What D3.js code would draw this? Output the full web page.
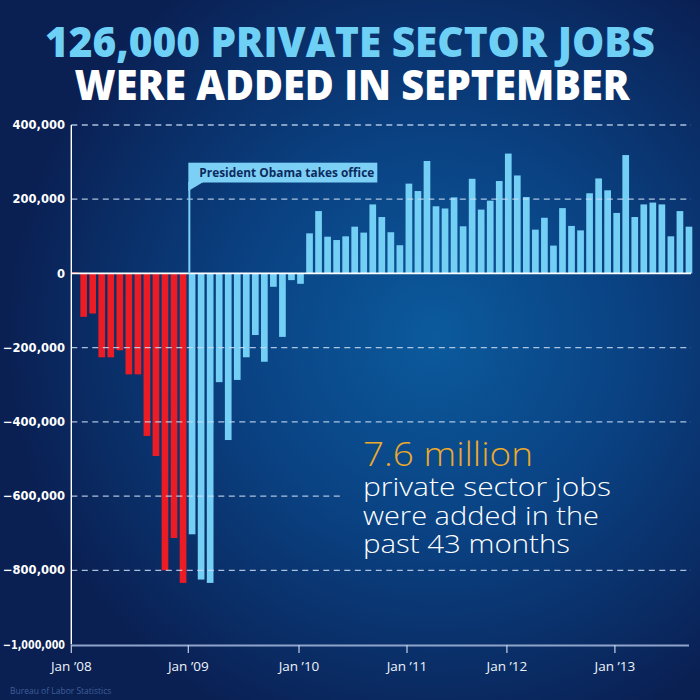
<!DOCTYPE html>
<html>
<head>
<meta charset="utf-8">
<script src="https://cdn.jsdelivr.net/npm/d3@7"></script>
<style>
  html, body { margin: 0; padding: 0; background: #0a2153; }
  svg { display: block; }
</style>
</head>
<body>
<div id="chart"></div>
<script>
// monthly change in private sector jobs, Jan 2008 .. Sep 2013
const redValues = [3, -117, -108, -226, -226, -207, -272, -272, -438, -492, -800, -713, -834]
const blueNegValues = [-703, -825, -834, -293, -449, -287, -226, -166, -238, -36, -171, -18, -28]
const bluePosValues = [
  108, 168, 99, 90, 100, 126, 110, 186, 152, 111, 76, 242, 222, 303, 181, 175,
  205, 127, 255, 172, 196, 249, 323, 264, 206, 118, 150, 75, 176, 128, 116, 216,
  256, 224, 163, 319, 152, 186, 191, 186, 100, 168, 126
]
const values = redValues.concat(blueNegValues, bluePosValues).map((v) => v * 1000)
const obamaIndex = redValues.length

const yTicks = [400000, 200000, 0, -200000, -400000, -600000, -800000, -1000000]
const gridTicks = [400000, 200000, -200000, -400000, -600000, -800000]
const xTickLabels = ["Jan \u201908", "Jan \u201909", "Jan \u201910", "Jan \u201911", "Jan  \u201912", "Jan \u201913"]
const xTickMonths = [0, 13, 25.3, 37.3, 48.4, 60.4]

const calloutLines = ["private sector jobs", "were added in the", "past 43 months"]
const calloutWidths = [248, 236, 207]

const W = 700
const H = 700
const left = 71.3
const step = 9
const plotRight = 691

const svg = d3.select("#chart").append("svg").attr("width", W).attr("height", H)

const defs = svg.append("defs")
const grad = defs
  .append("radialGradient")
  .attr("id", "bg")
  .attr("cx", "62%")
  .attr("cy", "48%")
  .attr("r", "62%")
grad.append("stop").attr("offset", "0%").attr("stop-color", "#0b5a9c")
grad.append("stop").attr("offset", "45%").attr("stop-color", "#0a4283")
grad.append("stop").attr("offset", "100%").attr("stop-color", "#0a1f52")

svg.append("rect").attr("width", W).attr("height", H).attr("fill", "url(#bg)")

// title
svg
  .append("text")
  .attr("x", 350)
  .attr("y", 57)
  .attr("text-anchor", "middle")
  .attr("font-family", "Open Sans")
  .attr("font-weight", 800)
  .attr("font-size", 42)
  .attr("fill", "#6fd0f6")
  .attr("textLength", 610)
  .attr("lengthAdjust", "spacingAndGlyphs")
  .text("126,000 PRIVATE SECTOR JOBS")

svg
  .append("text")
  .attr("x", 352)
  .attr("y", 100)
  .attr("text-anchor", "middle")
  .attr("font-family", "Open Sans")
  .attr("font-weight", 800)
  .attr("font-size", 42)
  .attr("fill", "#ffffff")
  .attr("textLength", 555)
  .attr("lengthAdjust", "spacingAndGlyphs")
  .text("WERE ADDED IN SEPTEMBER")

const x = d3
  .scaleBand()
  .domain(d3.range(values.length))
  .range([left, left + values.length * step])
  .paddingInner(0.26)
  .paddingOuter(0)
  .align(0)

const xMonth = d3
  .scaleLinear()
  .domain([0, values.length])
  .range([left, left + values.length * step])

const y = d3.scaleLinear().domain([-1000000, 400000]).range([644.5, 125])

// bars
svg
  .append("g")
  .selectAll("rect")
  .data(values)
  .enter()
  .append("rect")
  .attr("x", (d, i) => x(i))
  .attr("width", x.bandwidth())
  .attr("y", (d) => Math.min(y(d), y(0)))
  .attr("height", (d) => Math.max(1, Math.abs(y(d) - y(0))))
  .attr("fill", (d, i) => (i < obamaIndex ? "#ec1c24" : "#74cff5"))

// dashed grid
svg
  .append("g")
  .selectAll("line")
  .data(gridTicks)
  .enter()
  .append("line")
  .attr("x1", left)
  .attr("x2", (d) => (d === -600000 ? 341 : plotRight))
  .attr("y1", (d) => y(d))
  .attr("y2", (d) => y(d))
  .attr("stroke", "#c9dcf2")
  .attr("stroke-opacity", 0.85)
  .attr("stroke-width", 1.3)
  .attr("stroke-dasharray", "6,4.5")

// zero line
svg
  .append("line")
  .attr("x1", left)
  .attr("x2", plotRight)
  .attr("y1", y(0))
  .attr("y2", y(0))
  .attr("stroke", "#ffffff")
  .attr("stroke-width", 1.8)

// y axis line
svg
  .append("line")
  .attr("x1", left)
  .attr("x2", left)
  .attr("y1", y(400000))
  .attr("y2", y(-1000000))
  .attr("stroke", "#ffffff")
  .attr("stroke-width", 1.4)

// y labels
svg
  .append("g")
  .selectAll("text")
  .data(yTicks)
  .enter()
  .append("text")
  .attr("x", 65)
  .attr("y", (d) => y(d) + 4.2)
  .attr("text-anchor", "end")
  .attr("font-family", "DejaVu Sans")
  .attr("font-weight", "bold")
  .attr("font-size", 11.5)
  .attr("fill", "#ffffff")
  .attr("textLength", (d) => (d === -1000000 ? 62 : null))
  .attr("lengthAdjust", "spacingAndGlyphs")
  .text((d) => d3.format(",")(d))

// x axis
svg
  .append("line")
  .attr("x1", left)
  .attr("x2", 689)
  .attr("y1", 645.5)
  .attr("y2", 645.5)
  .attr("stroke", "#8fa4ca")
  .attr("stroke-width", 2)

const xt = svg
  .append("g")
  .selectAll("g")
  .data(xTickMonths)
  .enter()
  .append("g")
  .attr("transform", (d) => `translate(${xMonth(d)},0)`)

xt.append("line")
  .attr("y1", 645)
  .attr("y2", 653)
  .attr("stroke", "#c5d2e8")
  .attr("stroke-width", 1.2)

xt.append("text")
  .attr("y", 671)
  .attr("text-anchor", "middle")
  .attr("font-family", "Open Sans")
  .attr("font-size", 13.5)
  .attr("fill", "#eef3fa")
  .text((d, i) => xTickLabels[i])

// obama annotation
const ox = x(obamaIndex) + 0.6
svg
  .append("line")
  .attr("x1", ox)
  .attr("x2", ox)
  .attr("y1", y(0))
  .attr("y2", 182)
  .attr("stroke", "#7dd0f5")
  .attr("stroke-width", 2)

svg
  .append("rect")
  .attr("x", ox - 1)
  .attr("y", 162.7)
  .attr("width", 377.3 - ox + 1)
  .attr("height", 19.8)
  .attr("fill", "#7dd0f5")

svg
  .append("path")
  .attr("d", `M${ox - 1},182 L${ox + 14},182 L${ox - 1},191 Z`)
  .attr("fill", "#7dd0f5")

svg
  .append("text")
  .attr("x", 199.3)
  .attr("y", 176.7)
  .attr("font-family", "Open Sans")
  .attr("font-weight", "bold")
  .attr("font-size", 12)
  .attr("fill", "#0c2a5e")
  .attr("textLength", 175)
  .attr("lengthAdjust", "spacingAndGlyphs")
  .text("President Obama takes office")

// callout
svg
  .append("text")
  .attr("x", 363)
  .attr("y", 465.7)
  .attr("font-family", "Open Sans")
  .attr("font-weight", 300)
  .attr("font-size", 33)
  .attr("fill", "#eeaa2a")
  .attr("textLength", 170)
  .attr("lengthAdjust", "spacingAndGlyphs")
  .text("7.6 million")

svg
  .append("g")
  .selectAll("text")
  .data(calloutLines)
  .enter()
  .append("text")
  .attr("x", 363)
  .attr("y", (d, i) => 496 + i * 28.6)
  .attr("font-family", "Open Sans")
  .attr("font-weight", 300)
  .attr("font-size", 26)
  .attr("fill", "#ffffff")
  .attr("textLength", (d, i) => calloutWidths[i])
  .attr("lengthAdjust", "spacingAndGlyphs")
  .text((d) => d)

svg
  .append("text")
  .attr("x", 10)
  .attr("y", 694)
  .attr("font-family", "Open Sans")
  .attr("font-size", 8.5)
  .attr("fill", "#3f5f98")
  .text("Bureau of Labor Statistics")
</script>
</body>
</html>
